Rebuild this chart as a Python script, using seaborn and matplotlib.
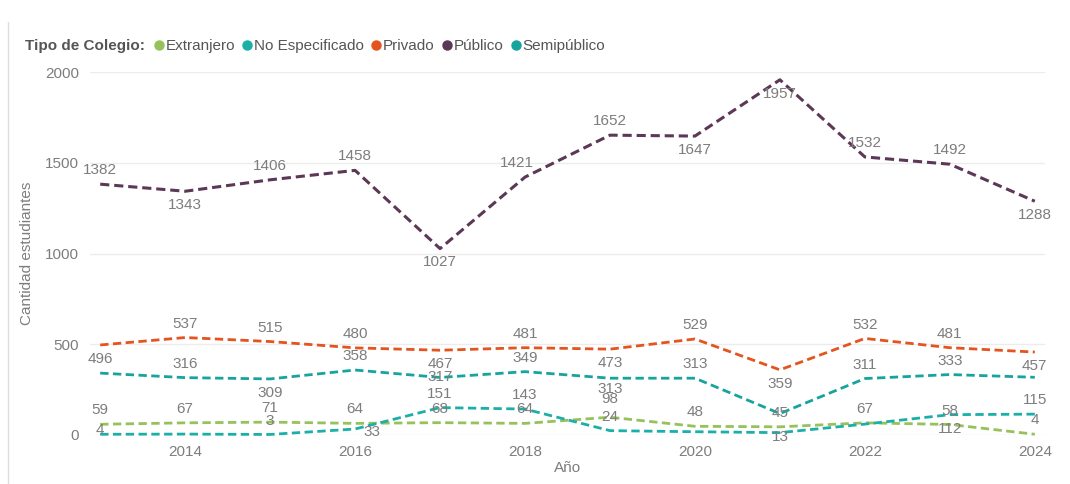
import matplotlib
matplotlib.use("Agg")
import matplotlib.pyplot as plt
from matplotlib.lines import Line2D
import pandas as pd
import seaborn as sns

years = list(range(2013, 2025))
extranjero = [59, 67, 71, 64, 68, 64, 98, 48, 45, 67, 58, 4]
no_especificado = [4, 5, 3, 33, 151, 143, 24, 18, 13, 60, 112, 115]
privado = [496, 537, 515, 480, 467, 481, 473, 529, 359, 532, 481, 457]
publico = [1382, 1343, 1406, 1458, 1027, 1421, 1652, 1647, 1957, 1532, 1492, 1288]
semipublico = [341, 316, 309, 358, 317, 349, 313, 313, 118, 311, 333, 318]

series_names = ["Extranjero", "No Especificado", "Privado", "Público", "Semipúblico"]
series_values = [extranjero, no_especificado, privado, publico, semipublico]

colors = {
    "Extranjero": "#97C15A",
    "No Especificado": "#1BAFA8",
    "Privado": "#E4541F",
    "Público": "#5C3857",
    "Semipúblico": "#17A39E",
}

# label placement per point: 1 above, -1 below, 0 on point, None hidden
label_pos = {
    "Extranjero": [1, 1, 1, 1, 1, 1, 1.3, 1, 1, 1, 1, 1],
    "No Especificado": [0.3, None, 1, -0.2, 1, 1, 1, None, -0.3, None, -1, 1],
    "Privado": [-1, 1, 1, 1, -1, 1, -1, 1, -1, 1, 1, -1],
    "Público": [1, -1, 1, 1, -1, 1, 1, -1, -1, 1, 1, -1],
    "Semipúblico": [None, 1, -1, 1, 0, 1, -0.8, 1, None, 1, 1, None],
}
# a few labels sit sideways of their point
label_dx = {("No Especificado", 2016): 12, ("Público", 2018): -6}

rows = []
for name, vals in zip(series_names, series_values):
    for y, v in zip(years, vals):
        rows.append({"Año": y, "Cantidad": v, "Tipo": name})
df = pd.DataFrame(rows)

sns.set_theme(style="white")
plt.rcParams["font.family"] = ["Liberation Sans", "DejaVu Sans"]

text_grey = "#7d7d7d"
fs = 11

fig = plt.figure(figsize=(10.7, 4.84), dpi=100)
ax = fig.add_axes([90 / 1070, 1 - 435 / 484, 955 / 1070, (435 - 72) / 484])

for name in series_names:
    sub = df[df["Tipo"] == name]
    lw = 2.2 if name == "Público" else 2.0
    sns.lineplot(data=sub, x="Año", y="Cantidad", color=colors[name], ax=ax,
                 linewidth=lw, linestyle=(0, (3, 1.6)), clip_on=False)
    for y, v, p in zip(sub["Año"], sub["Cantidad"], label_pos[name]):
        if p is None:
            continue
        dx = label_dx.get((name, y), 0)
        ax.annotate(str(v), (y, v), xytext=(dx, 10 * p), textcoords="offset points",
                    ha="center", va="center", fontsize=fs, color=text_grey)

ax.set_xlim(2012.88, 2024.12)
ax.set_ylim(0, 2000)
ax.set_xticks(range(2014, 2025, 2))
ax.set_yticks([0, 500, 1000, 1500, 2000])
ax.grid(axis="y", color="#ececec", linewidth=1)
ax.grid(axis="x", visible=False)
for s in ax.spines.values():
    s.set_visible(False)
ax.tick_params(axis="both", length=0, labelsize=fs, labelcolor=text_grey)
ax.tick_params(axis="x", pad=7)
ax.tick_params(axis="y", pad=8)
ax.set_xlabel("Año", fontsize=fs, color=text_grey, labelpad=2)
ax.set_ylabel("Cantidad estudiantes", fontsize=fs, color=text_grey, labelpad=8)

fig.text(25 / 1070, 1 - 46 / 484, "Tipo de Colegio:", fontsize=fs,
         fontweight="bold", color="#555555", va="center", ha="left")
handles = [Line2D([], [], marker="o", linestyle="", markersize=6.5,
                  color=colors[n]) for n in series_names]
fig.legend(handles, series_names, loc="center left",
           bbox_to_anchor=(154 / 1070, 1 - 46 / 484), ncol=5, frameon=False,
           fontsize=fs, handlelength=0.6, handletextpad=0.15,
           columnspacing=0.5, labelcolor="#555555", borderaxespad=0,
           borderpad=0)

fig.add_artist(Line2D([8 / 1070, 8 / 1070], [0, 1 - 22 / 484],
                      color="#dddddd", linewidth=1))

fig.savefig("out.png", dpi=100)
